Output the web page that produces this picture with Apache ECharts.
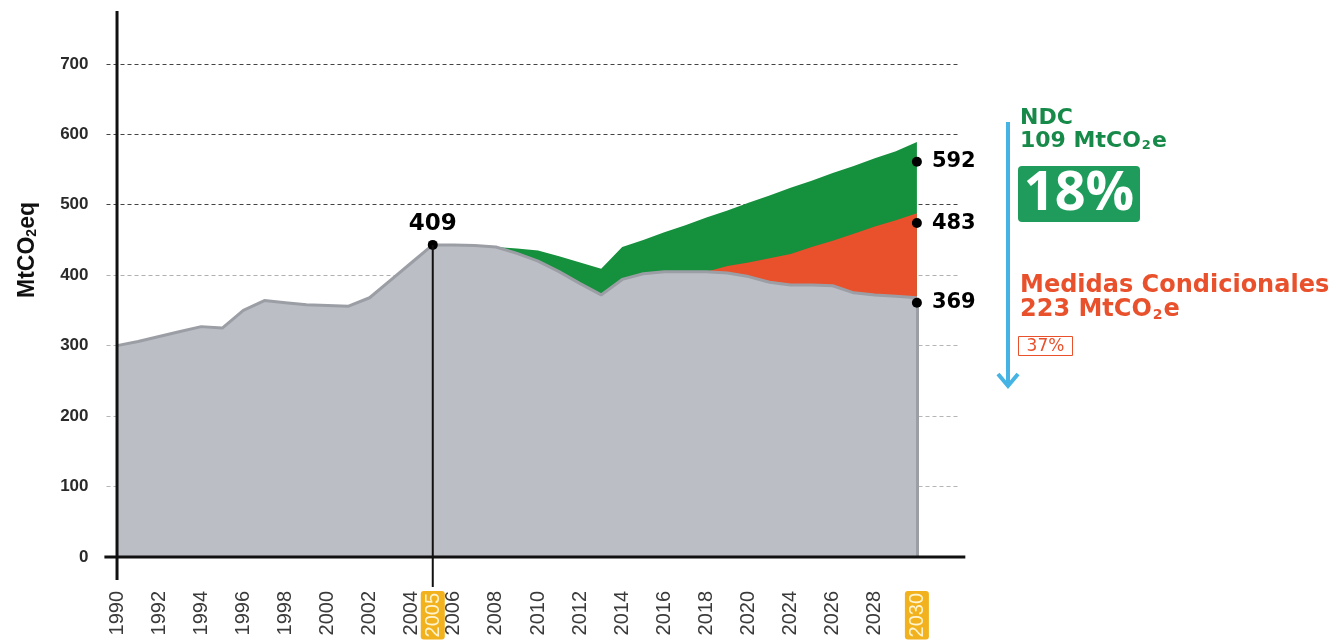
<!DOCTYPE html>
<html>
<head>
<meta charset="utf-8">
<script src="https://cdn.jsdelivr.net/npm/echarts@6/dist/echarts.min.js"></script>
<style>
  html, body { margin: 0; padding: 0; background: #fff; }
  #chart { width: 1344px; height: 643px; }
</style>
</head>
<body>
<div id="chart"></div>
<script>
// axis quirk of the original: 2021-2023 collapse into one slot
const years = [1990, 1991, 1992, 1993, 1994, 1995, 1996, 1997, 1998, 1999,
  2000, 2001, 2002, 2003, 2004, 2005, 2006, 2007, 2008, 2009,
  2010, 2011, 2012, 2013, 2014, 2015, 2016, 2017, 2018, 2019,
  2020, 2022, 2024, 2025, 2026, 2027, 2028, 2029, 2030]
const tickYears = ['1990', '1992', '1994', '1996', '1998', '2000', '2002', '2004', '2005', '2006',
  '2008', '2010', '2012', '2014', '2016', '2018', '2020', '2024', '2026', '2028', '2030']
const highlightYears = ['2005', '2030']
const yTicks = [0, 100, 200, 300, 400, 500, 600, 700]

// gray = tendencial, orange = medidas condicionales, green = NDC
const baseline = [300, 306, 313, 320, 327, 325, 350, 364, 361, 358,
  357, 356, 368, 393, 418, 443, 443, 442, 440, 431,
  420, 405, 388, 372, 394, 402, 405, 405, 405, 403,
  398, 390, 386, 386, 385, 375, 372, 370, 368]
const conditional = ['-', '-', '-', '-', '-', '-', '-', '-', '-', '-',
  '-', '-', '-', '-', '-', '-', '-', '-', '-', '-',
  '-', '-', '-', '-', '-', '-', '-', '-', 405, 413,
  418, 424, 430, 440, 449, 459, 469, 478, 488]
const ndc = ['-', '-', '-', '-', '-', '-', '-', '-', '-', '-',
  '-', '-', '-', '-', '-', '-', '-', '-', 440, 438,
  435, 427, 418, 409, 440, 450, 461, 471, 482, 492,
  503, 513, 524, 534, 545, 555, 566, 576, 589]

const markYears = [2005, 2030, 2030, 2030]
const markValues = [443, 561, 474, 361]
const markLabels = ['409', '592', '483', '369']

const toPairs = arr => arr.map((v, i) => [i, v]).filter(d => d[1] !== '-')

var chart = echarts.init(document.getElementById('chart'))

var option = {
  animation: false,
  grid: { left: 106.5, right: 385, top: 11, bottom: 86 },
  xAxis: {
    type: 'value',
    min: -0.5,
    max: 40,
    interval: 0.5,
    axisLine: { show: false },
    axisTick: { show: false },
    splitLine: { show: false },
    axisLabel: {
      rotate: 90,
      margin: 34,
      fontSize: 20,
      fontFamily: 'Liberation Sans',
      color: '#3a3a3a',
      formatter: function (v) {
        if (v < 0 || v % 1 !== 0 || v >= years.length) return ''
        var y = String(years[v])
        if (tickYears.indexOf(y) < 0) return ''
        if (highlightYears.indexOf(y) >= 0) return '{hl|' + y + '}'
        return y
      },
      rich: {
        hl: {
          backgroundColor: '#f1b21d',
          color: '#fff4cf',
          borderRadius: 3,
          padding: [3, 2, 1, 2],
          fontSize: 20,
          fontFamily: 'Liberation Sans'
        }
      }
    }
  },
  yAxis: {
    type: 'value',
    min: 0,
    max: 775,
    interval: 100,
    axisLine: { show: false, onZero: false },
    axisTick: { show: false },
    axisLabel: {
      margin: 18,
      fontSize: 17,
      fontWeight: 'bold',
      fontFamily: 'Liberation Sans',
      color: '#2a2a2a',
      showMaxLabel: false,
      formatter: function (v) { return yTicks.indexOf(v) >= 0 ? String(v) : '' }
    },
    splitLine: {
      lineStyle: {
        type: [4, 3],
        width: 1,
        color: ['#333', '#b5b5b5', '#b5b5b5', '#b5b5b5', '#b0b0b0', '#444', '#444', '#444', 'rgba(0,0,0,0)']
      }
    }
  },
  series: [
    {
      name: 'NDC',
      type: 'line',
      z: 2,
      data: toPairs(ndc),
      symbol: 'none',
      lineStyle: { width: 0 },
      areaStyle: { color: '#15903d', opacity: 1 }
    },
    {
      name: 'Medidas Condicionales',
      type: 'line',
      z: 3,
      data: toPairs(conditional),
      symbol: 'none',
      lineStyle: { width: 0 },
      areaStyle: { color: '#e8512c', opacity: 1 }
    },
    {
      name: 'Tendencial',
      type: 'line',
      z: 4,
      data: toPairs(baseline),
      symbol: 'none',
      lineStyle: { color: '#9c9ea5', width: 3 },
      areaStyle: { color: '#bcbec6', opacity: 1 },
      markLine: {
        silent: true,
        symbol: 'none',
        label: { show: false },
        lineStyle: { color: '#9c9ea5', width: 3, type: 'solid' },
        data: [[{ coord: [years.length - 1, 0] }, { coord: [years.length - 1, baseline[years.length - 1]] }]]
      }
    },
    {
      name: 'marks',
      type: 'scatter',
      z: 10,
      symbolSize: 10,
      itemStyle: { color: '#000', opacity: 1 },
      data: markYears.map((y, i) => ({
        value: [years.indexOf(y), markValues[i]],
        label: {
          show: true,
          formatter: markLabels[i],
          position: i === 0 ? 'top' : 'right',
          distance: i === 0 ? 4 : 10,
          fontSize: i === 0 ? 23 : 21,
          fontWeight: 'bold',
          fontFamily: 'DejaVu Sans',
          color: '#000',
          opacity: 1
        }
      }))
    }
  ]
}

chart.setOption(option)

// axis lines drawn on top of the areas, plus the side notes
var origin = chart.convertToPixel({ gridIndex: 0 }, [0, 0])
var yTop = chart.convertToPixel({ gridIndex: 0 }, [0, 775])
var xl = chart.convertToPixel({ gridIndex: 0 }, [-0.6, 0])
var xr = chart.convertToPixel({ gridIndex: 0 }, [40.3, 0])
var d05 = chart.convertToPixel({ gridIndex: 0 }, [years.indexOf(2005), markValues[0]])

function subText (pre, post, size, color) {
  return {
    text: '{a|' + pre + '}{s|2}{a|' + post + '}',
    rich: {
      a: { font: 'bold ' + size + 'px "DejaVu Sans"', fill: color },
      s: { font: 'bold ' + Math.round(size * 0.6) + 'px "DejaVu Sans"', fill: color, verticalAlign: 'bottom', padding: [0, 1, 0, 1] }
    },
    textVerticalAlign: 'middle'
  }
}

var green = '#178a49'
var red = '#e8512c'

chart.setOption({
  graphic: [
    { type: 'line', z: 20, shape: { x1: origin[0], y1: yTop[1], x2: origin[0], y2: origin[1] + 23 }, style: { stroke: '#111', lineWidth: 3 } },
    { type: 'line', z: 20, shape: { x1: xl[0], y1: origin[1], x2: xr[0], y2: origin[1] }, style: { stroke: '#111', lineWidth: 3 } },
    { type: 'line', z: 20, shape: { x1: d05[0], y1: d05[1], x2: d05[0], y2: origin[1] + 30 }, style: { stroke: '#111', lineWidth: 2 } },
    {
      type: 'text', z: 20, x: 28, y: 250, rotation: Math.PI / 2,
      style: {
        text: '{a|MtCO}{s|2}{a|eq}',
        rich: {
          a: { font: 'bold 23px "Liberation Sans"', fill: '#111' },
          s: { font: 'bold 14px "Liberation Sans"', fill: '#111', verticalAlign: 'bottom' }
        },
        textAlign: 'center',
        textVerticalAlign: 'middle'
      }
    },
    // blue arrow
    { type: 'line', z: 20, shape: { x1: 1008, y1: 122, x2: 1008, y2: 385 }, style: { stroke: '#45b3e3', lineWidth: 4 } },
    { type: 'polyline', z: 20, shape: { points: [[998, 374], [1008, 386], [1018, 374]] }, style: { stroke: '#45b3e3', lineWidth: 4, fill: null } },
    { type: 'text', z: 20, x: 1020, y: 118, style: { text: 'NDC', font: 'bold 22px "DejaVu Sans"', fill: green, textVerticalAlign: 'middle' } },
    { type: 'text', z: 20, x: 1020, y: 141, style: subText('109 MtCO', 'e', 22, green) },
    { type: 'rect', z: 20, shape: { x: 1018, y: 166, width: 122, height: 56, r: 4 }, style: { fill: '#1f9c5c' } },
    { type: 'text', z: 21, x: 1079, y: 195, style: { text: '18%', font: 'bold 54px "Open Sans"', fill: '#fff', textAlign: 'center', textVerticalAlign: 'middle' } },
    { type: 'text', z: 20, x: 1020, y: 286, style: { text: 'Medidas Condicionales', font: 'bold 24px "DejaVu Sans"', fill: red, textVerticalAlign: 'middle' } },
    { type: 'text', z: 20, x: 1020, y: 310, style: subText('223 MtCO', 'e', 24, red) },
    { type: 'rect', z: 20, shape: { x: 1018.5, y: 336.5, width: 54, height: 19 }, style: { fill: '#fff', stroke: red, lineWidth: 1 } },
    { type: 'text', z: 21, x: 1045.5, y: 347, style: { text: '37%', font: '17px "DejaVu Sans"', fill: red, textAlign: 'center', textVerticalAlign: 'middle' } }
  ]
})
</script>
</body>
</html>
